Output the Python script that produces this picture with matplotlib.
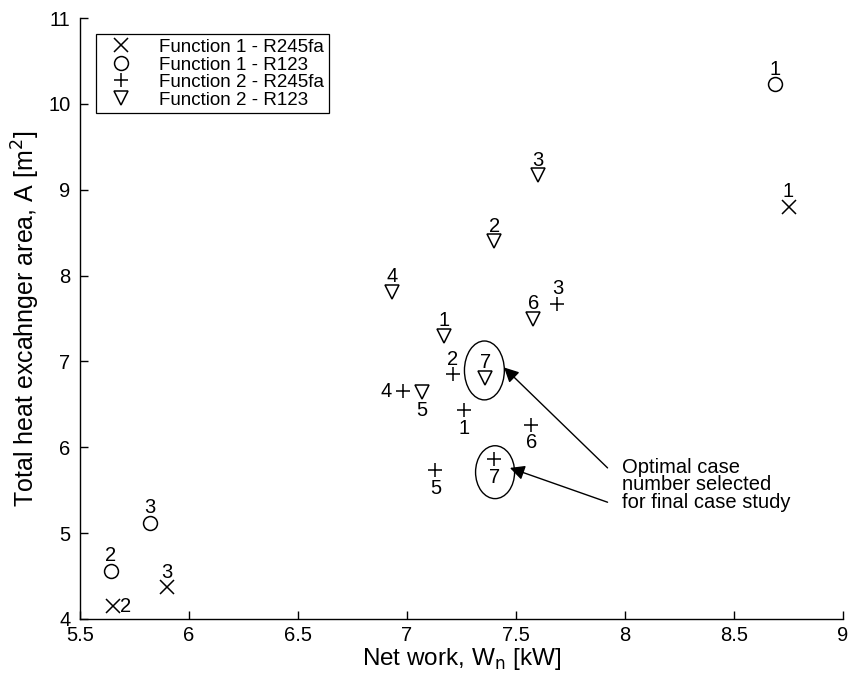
import matplotlib
matplotlib.use("Agg")
import matplotlib.pyplot as plt
from matplotlib.lines import Line2D
from matplotlib.patches import Ellipse

# ── Data ────────────────────────────────────────────────────────────────────
f1_r245_x = [8.75, 5.65, 5.90]
f1_r245_y = [8.80, 4.15, 4.37]
f1_r245_lab = ["1", "2", "3"]

f1_r123_x = [8.69, 5.64, 5.82]
f1_r123_y = [10.23, 4.56, 5.12]
f1_r123_lab = ["1", "2", "3"]

f2_r245_x = [7.26, 7.21, 7.69, 6.98, 7.13, 7.57, 7.40]
f2_r245_y = [6.43, 6.85, 7.67, 6.65, 5.73, 6.26, 5.86]
f2_r245_lab = ["1", "2", "3", "4", "5", "6", "7"]

f2_r123_x = [7.17, 7.40, 7.60, 6.93, 7.07, 7.58, 7.36]
f2_r123_y = [7.30, 8.40, 9.17, 7.81, 6.64, 7.50, 6.81]
f2_r123_lab = ["1", "2", "3", "4", "5", "6", "7"]

# label placement: "u" above, "d" below, "l" left, "r" right
f1_r245_pos = ["u", "r", "u"]
f1_r123_pos = ["u", "u", "u"]
f2_r245_pos = ["d", "u", "u", "l", "d", "d", "d"]
f2_r123_pos = ["u", "u", "u", "u", "d", "u", "u"]

FS = 14.5
plt.rcParams.update({"font.family": ["Liberation Sans", "DejaVu Sans"],
                     "font.size": FS,
                     "xtick.direction": "in", "ytick.direction": "in",
                     "axes.spines.top": False, "axes.spines.right": False})

fig = plt.figure(figsize=(8.49, 6.77), dpi=100)
ax = fig.add_axes([80 / 849, 58 / 677, 763 / 849, 601 / 677])

OFFS = {"u": (0, 4, "center", "bottom"), "d": (0, -6, "center", "top"),
        "l": (-8, 0, "right", "center"), "r": (5, 0, "left", "center")}

series = [
    (f1_r245_x, f1_r245_y, f1_r245_lab, f1_r245_pos, "x", "Function 1 - R245fa"),
    (f1_r123_x, f1_r123_y, f1_r123_lab, f1_r123_pos, "o", "Function 1 - R123"),
    (f2_r245_x, f2_r245_y, f2_r245_lab, f2_r245_pos, "+", "Function 2 - R245fa"),
    (f2_r123_x, f2_r123_y, f2_r123_lab, f2_r123_pos, "v", "Function 2 - R123"),
]

handles = []
for xs, ys, labs, pos, mk, name in series:
    ax.plot(xs, ys, ls="none", marker=mk, ms=10, mew=1.1, color="k",
            mfc="none", zorder=3)
    for xv, yv, lb, p in zip(xs, ys, labs, pos):
        dx, dy, ha, va = OFFS[p]
        ax.annotate(lb, (xv, yv), xytext=(dx, dy), textcoords="offset points",
                    ha=ha, va=va, fontsize=FS)
    handles.append(Line2D([0], [0], ls="none", marker=mk, ms=10, mew=1.1,
                          color="k", mfc="none", label=name))

# circles around the optimal cases
ax.add_patch(Ellipse((7.355, 6.895), 0.183, 0.686, fill=False, ec="k", lw=1.0))
ax.add_patch(Ellipse((7.404, 5.71), 0.179, 0.616, fill=False, ec="k", lw=1.0))

arr = dict(arrowstyle="-|>", color="k", lw=1.0, mutation_scale=22,
           shrinkA=0, shrinkB=0)
ax.annotate("", xy=(7.445, 6.93), xytext=(7.92, 5.76), arrowprops=arr)
ax.annotate("", xy=(7.472, 5.76), xytext=(7.92, 5.36), arrowprops=arr)
ax.text(7.985, 5.88, "Optimal case\nnumber selected\nfor final case study",
        ha="left", va="top", fontsize=FS, linespacing=0.92)

ax.set_xlim(5.5, 9)
ax.set_ylim(4, 11)
ax.set_xticks([5.5, 6, 6.5, 7, 7.5, 8, 8.5, 9])
ax.set_xticklabels(["5.5", "6", "6.5", "7", "7.5", "8", "8.5", "9"])
ax.set_yticks(range(4, 12))
ax.tick_params(length=6, width=1)
ax.tick_params(axis="x", pad=5)
ax.tick_params(axis="y", pad=7)
for s in ax.spines.values():
    s.set_linewidth(1.0)

ax.set_xlabel(r"Net work, W$_{\rm n}$ [kW]", fontsize=17.5, labelpad=1)
ax.set_ylabel(r"Total heat excahnger area, A [m$^2$]", fontsize=18, labelpad=4)

ax.legend(handles=handles, loc="upper left", bbox_to_anchor=(0.021, 0.973),
          borderaxespad=0, frameon=True, fancybox=False, edgecolor="k",
          framealpha=1, labelspacing=0.02, handlelength=2.2,
          handletextpad=0.9, borderpad=0.25, fontsize=13.5)
ax.get_legend().get_frame().set_linewidth(0.9)

fig.savefig("out.png", dpi=100)
